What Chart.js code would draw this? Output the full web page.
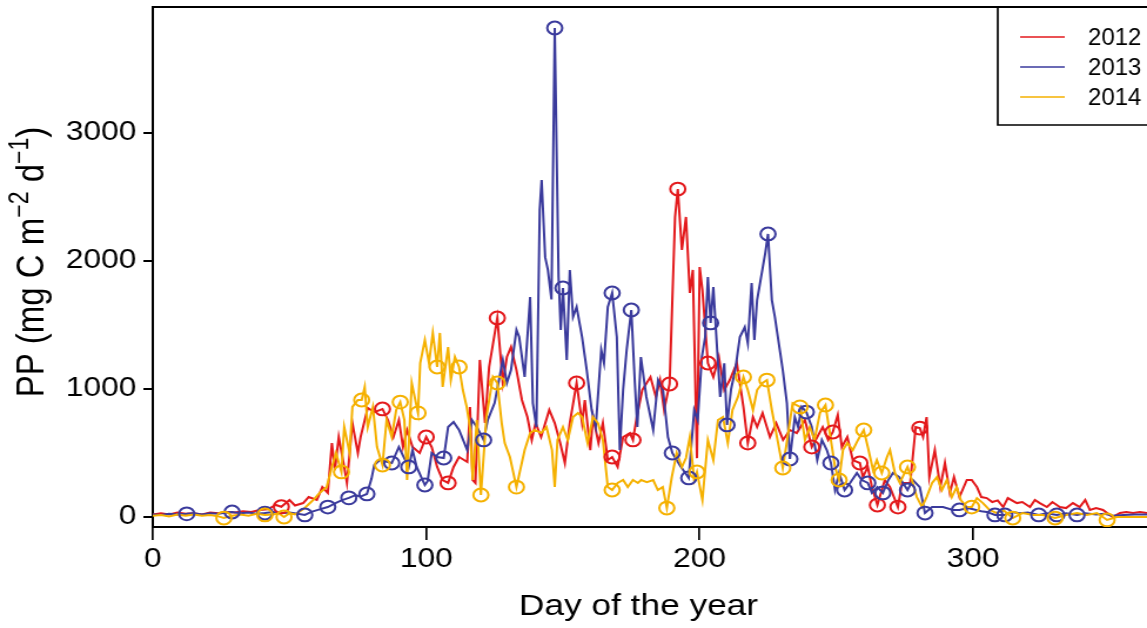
<!DOCTYPE html>
<html>
<head>
<meta charset="utf-8">
<script src="https://cdn.jsdelivr.net/npm/chart.js@4.4.0/dist/chart.umd.min.js"></script>
<style>
  html, body { margin: 0; padding: 0; background: #fff; }
</style>
</head>
<body>
<canvas id="pp-canvas" width="976" height="628" style="display:block;width:1147px;height:628px"></canvas>
<script>
'use strict';

// ---- data (day of year, PP in mg C m-2 d-1) ----
var years = ['2012', '2013', '2014'];
var colors = ['#e3191c', '#3a3a9c', '#f5b100'];
var xTicks = [0, 100, 200, 300];
var yTicks = [0, 1000, 2000, 3000];

var days2012 = [0,3,6,9,12,15,18,21,24,27,30,33,36,39,42,45,47,50,52,55,57,60,62,64,65.5,66.6,68,70,71,73,75,76,78.6,81,84,86,88,90,91.5,93,95,97.6,100,102,104,106,108,110,112,115,116,117,118,119.6,121.5,123,126,128,129.5,131,133,135,137,138.6,140,142,145,147,149,150.7,152.5,155,157,158,160,161,163,164.6,166.4,168,170,172,174.5,175.6,177,179,182,184,185.5,187,189,191,192,193.5,195,196.4,197.5,199,200,201,203,205,207,209,211,213.6,216,217.6,219.5,221,223,225.7,228,230.5,233,235.5,238.5,241,243,245,247,248.7,250.5,252,254,256,258.6,259.7,261.5,263,265,267.7,269.6,272.5,274,277,279,280.5,281.7,283,284,286,288,289.7,291.5,293,295,297.7,299.5,301.4,303,305,307,309,311,312.7,316,318,320.8,322.6,324.4,327,329,331.7,334,336.5,339,341,342.7,345,347.5,351,353.7,356,358.5,361,363.6];
var pp2012 = [20,30,20,35,25,30,20,35,30,40,35,45,40,55,60,94,80,133,90,109,156,133,234,188,578,367,625,391,266,734,500,625,852,820,844,758,625,758,547,680,547,500,625,547,391,289,266,391,469,430,860,289,266,1227,734,1172,1555,1047,1250,1328,1148,914,781,602,734,625,836,734,578,422,734,1047,734,914,523,781,578,734,445,469,391,625,656,602,781,992,1094,938,1070,836,1039,2344,2562,2086,2344,1750,1930,460,1953,1773,1203,1094,1250,992,1070,1203,860,578,781,703,812,625,734,602,680,656,758,547,625,703,602,664,797,547,625,445,422,312,391,234,94,289,234,78,266,266,703,695,625,781,312,523,234,422,188,312,156,289,289,234,156,148,117,130,78,148,109,117,78,133,109,78,117,78,70,109,78,133,55,70,55,0,31,39,31,39,31];

var days2013 = [0,3,6,9,12.4,15,18,21,24,27,29,32,35,38,41,44,47,50,53,55.6,58,61,64,67,69,71.7,74,76,78.3,80,81,83,86,87.4,90,91.5,93.6,95,96.5,99.5,100.5,102,104,106.4,108,110,112,115,116.7,118.5,121,122.5,125,128,129.5,131,133,134,136,138,139,140.3,141.5,142.2,143.5,144.5,145.8,147,148.4,149.2,150,151.4,152.5,153.7,155,157,158.7,160.5,162,164,165,166.4,168,169.7,170.8,172,173.3,175,176.3,177.2,178.5,180.5,183,184.8,186.6,188.4,190,192.7,196,198,199.3,200.8,202,203,204,205,206.4,207.5,209,210,211.5,213,214.7,216.5,217.6,219,220,221,224,225,226.4,227.5,228.6,230.4,231.9,233,234.8,236,237.3,239,241,243,244.7,246.5,248,249.5,251,253,255,257.5,259.3,261.5,263,265,267,269,270.7,273,276,278,280.5,282.4,285,289,292.6,295,298,300,303,305,308,311.6,314,317,320,324,327,330.6,334,338,341,345,348,351,355,359,363.6];
var pp2013 = [20,15,25,20,25,30,20,30,25,35,39,30,35,25,31,40,30,35,25,16,40,60,78,110,130,150,170,160,180,300,406,445,430,422,547,480,391,523,391,250,280,500,469,461,703,742,680,523,758,703,602,758,890,1227,1047,1148,1461,1406,1094,1719,890,703,2398,2633,2030,1930,1700,3820,1875,1461,1789,1227,1930,1563,1641,1406,1148,836,703,1305,1203,1641,1750,1406,523,992,1305,1617,1047,703,1250,938,680,1070,992,625,500,406,305,836,758,1250,1406,1875,1516,1797,1305,938,1200,719,1000,1148,1406,1484,1359,1828,1383,1695,2063,2211,1695,1563,1406,1148,890,453,781,703,860,820,703,445,602,523,422,211,344,211,266,344,289,266,188,234,188,289,344,312,211,289,234,31,78,78,55,55,70,60,45,40,16,16,40,30,35,16,30,16,30,16,30,20,25,10,15,20,20];

var days2014 = [0,3,6,9,12,15,18,21,24,26,29,32,35,38,41,44,46,48,50,52,55,57,59,61,63.6,65.5,67,69,70,72,73,75,76.4,77.5,78.6,80.5,82,84,85.5,87.4,89,90.5,92,93,94.7,97,97.8,99.5,101,102.4,104,105,106,108,109,110.5,112,113.4,114.8,116,117,118.5,120,122,124.4,126,127.6,128.7,130.6,133,136,138,139.7,142,144,146,147,148,150,151.8,153.7,155.5,157,159,161,162.8,164.6,166.4,168,170,172,173.7,175.6,177.4,178.6,180.7,183,184.7,186.5,188,189.8,191.6,193.5,195,196.4,198,199,201,203,205,206.7,208.5,210.3,212,214,216,217.6,219.5,221,223,224.6,226.4,228,230.4,232,234,236.7,238.5,240.3,242,244,246,247.6,249.5,251,252.4,254,256,257.9,260,261.5,263.4,264.8,266.6,268.5,269.6,271.4,273.2,276,277.6,279.4,281.3,283,285,286.8,288.6,290.4,292.2,294,295.5,297.7,299.5,301.4,303.6,306,308.7,311,314.5,318,322,325.5,330,334,338,341.6,345.3,349,352.6,356,360,363.6];
var pp2014 = [10,15,5,20,10,20,10,15,5,-8,10,20,10,25,16,20,30,0,30,20,60,100,140,188,234,391,500,352,703,500,860,914,914,1016,703,860,547,406,758,625,836,898,758,289,1047,813,1203,1383,1203,1438,1172,1438,1016,1328,1070,1250,1172,992,860,703,289,758,172,781,1094,1047,734,578,469,234,523,656,680,656,703,523,234,602,703,602,781,813,781,578,781,734,602,234,211,266,289,234,289,266,289,273,289,211,234,70,312,500,391,461,625,289,352,133,602,445,758,781,578,836,938,1094,992,836,992,1047,1070,836,656,383,602,890,860,602,703,602,813,875,656,391,289,523,578,523,602,680,547,367,445,344,469,523,344,266,391,289,156,78,156,266,312,211,289,156,234,133,78,78,148,109,55,31,55,-8,31,16,16,-8,16,31,16,31,-23,0,0,0,0];

// sampling days marked with open circles
var markDays2012 = [47,84,100,108,126,155,168,175.6,189,192,203,217.6,241,248.7,258.6,265,272.5,280.5];
var markPP2012 = [80,844,625,266,1555,1047,469,602,1039,2562,1203,578,547,664,422,94,78,695];
var markDays2013 = [12.4,29,41,55.6,64,71.7,78.3,87.4,93.6,99.5,106.4,121,147,150,168,175,190,196,204,210,225,233,239,248,253,261.5,267,276,282.4,295,308,311.6,324,330.6,338];
var markPP2013 = [25,39,31,16,78,150,180,422,391,250,461,602,3820,1789,1750,1617,500,305,1516,719,2211,453,820,422,211,266,188,211,31,55,16,16,16,16,16];
var markDays2014 = [26,41,48,69,76.4,84,90.5,97,104,112,120,126,133,168,188,199,216,224.6,230.4,236.7,246,251,260,266.6,276,299.5,314.5,330,349];
var markPP2014 = [-8,16,0,352,914,406,898,813,1172,1172,172,1047,234,211,70,352,1094,1070,383,860,875,289,680,344,391,78,-8,-8,-23];

// the reference image is stretched sideways; draw narrow and let CSS widen it
var STRETCH = 1147 / 976;
var FONT = "'Liberation Sans', Arial, Helvetica, sans-serif";

function toPoints(days, values) {
  return days.map(function(d, i) { return { x: d, y: values[i] }; });
}

var seriesDays = [days2012, days2013, days2014];
var seriesPP = [pp2012, pp2013, pp2014];
var markDays = [markDays2012, markDays2013, markDays2014];
var markPP = [markPP2012, markPP2013, markPP2014];

var datasets = [];
years.forEach(function(yr, i) {
  datasets.push({
    label: yr,
    data: toPoints(seriesDays[i], seriesPP[i]),
    borderColor: colors[i],
    borderWidth: 2,
    pointRadius: 0,
    tension: 0,
    order: 6 - i
  });
});
years.forEach(function(yr, i) {
  datasets.push({
    label: yr + ' samples',
    data: toPoints(markDays[i], markPP[i]),
    showLine: false,
    pointRadius: 6.4,
    pointBorderWidth: 2,
    pointBorderColor: colors[i],
    pointBackgroundColor: 'rgba(0,0,0,0)',
    order: 3 - i
  });
});

// box top edge, legend box and the axis titles
var frameAndLabels = {
  id: 'frameAndLabels',
  afterDraw: function(chart) {
    var ctx = chart.ctx;
    var area = chart.chartArea;
    ctx.save();
    ctx.strokeStyle = '#000';
    ctx.lineWidth = 2;
    ctx.beginPath();
    ctx.moveTo(area.left - 1, area.top);
    ctx.lineTo(chart.width + 2, area.top);
    ctx.stroke();

    // legend
    var lx = 849, lb = 125;
    ctx.fillStyle = '#fff';
    ctx.fillRect(lx, area.top + 1, chart.width - lx + 2, lb - area.top - 1);
    ctx.lineWidth = 1.7;
    ctx.beginPath();
    ctx.moveTo(lx, area.top);
    ctx.lineTo(lx, lb);
    ctx.lineTo(chart.width + 2, lb);
    ctx.stroke();
    var rowY = [37, 67, 97];
    years.forEach(function(yr, i) {
      ctx.strokeStyle = colors[i];
      ctx.lineWidth = 1.6;
      ctx.beginPath();
      ctx.moveTo(868, rowY[i]);
      ctx.lineTo(906, rowY[i]);
      ctx.stroke();
      ctx.save();
      ctx.translate(925.8, rowY[i]);
      ctx.scale(1 / STRETCH, 1);
      ctx.fillStyle = '#000';
      ctx.font = '24px ' + FONT;
      ctx.textBaseline = 'middle';
      ctx.textAlign = 'left';
      ctx.fillText(yr, 0, 1);
      ctx.restore();
    });

    // x title
    ctx.fillStyle = '#000';
    ctx.font = '30px ' + FONT;
    ctx.textAlign = 'center';
    ctx.textBaseline = 'alphabetic';
    ctx.fillText('Day of the year', 543.3, 615);

    // y title with superscripts
    var parts = [['PP (mg C m', 33, 0], ['\u22122', 23, 13], [' d', 33, 0], ['\u22121', 23, 13], [')', 33, 0]];
    var total = 0;
    parts.forEach(function(p) {
      ctx.font = p[1] + 'px ' + FONT;
      p.push(ctx.measureText(p[0]).width);
      total += p[3];
    });
    ctx.translate(36.6, 262);
    ctx.rotate(-Math.PI / 2);
    ctx.textAlign = 'left';
    var x = -total / 2;
    parts.forEach(function(p) {
      ctx.font = p[1] + 'px ' + FONT;
      ctx.fillText(p[0], x, -p[2]);
      x += p[3];
    });
    ctx.restore();
  }
};

function plainLabel(v) { return String(v); }

var canvas = document.getElementById('pp-canvas');
var config = {
  type: 'line',
  data: { datasets: datasets },
  options: {
    responsive: false,
    animation: false,
    layout: { autoPadding: false, padding: { top: 7, left: 0, right: 0, bottom: 0 } },
    plugins: {
      legend: { display: false },
      tooltip: { enabled: false }
    },
    scales: {
      x: {
        type: 'linear',
        min: 0,
        max: 363.6,
        afterBuildTicks: function(scale) {
          scale.ticks = xTicks.map(function(v) { return { value: v }; });
        },
        afterFit: function(scale) {
          scale.height = 101;
          scale.paddingLeft = 0;
          scale.paddingRight = 0;
        },
        grid: { drawOnChartArea: false, drawTicks: true, tickLength: 13, color: '#000', lineWidth: 1.7 },
        border: { display: true, color: '#000', width: 2 },
        ticks: { color: '#000', font: { family: FONT, size: 27 }, padding: 3, maxRotation: 0, autoSkip: false, callback: plainLabel }
      },
      y: {
        min: -78,
        max: 3984,
        afterBuildTicks: function(scale) {
          scale.ticks = yTicks.map(function(v) { return { value: v }; });
        },
        afterFit: function(scale) {
          scale.width = 130;
          scale.paddingTop = 0;
          scale.paddingBottom = 0;
        },
        grid: { drawOnChartArea: false, drawTicks: true, tickLength: 8, color: '#000', lineWidth: 2 },
        border: { display: true, color: '#000', width: 2 },
        ticks: { color: '#000', font: { family: FONT, size: 27 }, padding: 6, callback: plainLabel }
      }
    }
  },
  plugins: [frameAndLabels]
};

window.chart = new Chart(canvas, config);
</script>
</body>
</html>
